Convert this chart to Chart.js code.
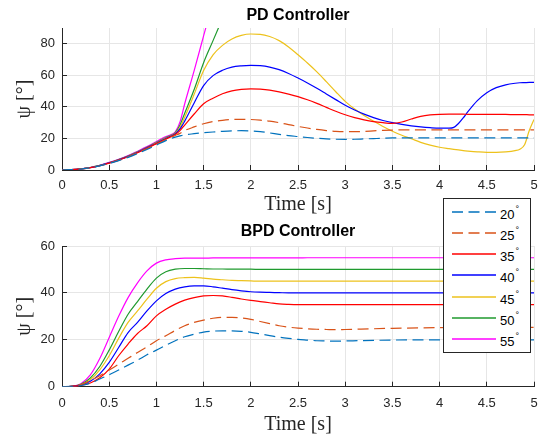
<!DOCTYPE html>
<html><head><meta charset="utf-8">
<script src="https://cdn.jsdelivr.net/npm/chart.js@4.4.1/dist/chart.umd.min.js"></script>
<style>
html,body{margin:0;padding:0;background:#fff;}
#wrap{position:relative;width:539px;height:439px;overflow:hidden;background:#fff;}
canvas{position:absolute;left:0;}
#legend{position:absolute;left:443px;top:198px;width:86px;height:153px;border:1px solid #262626;background:#fff;font-family:'Liberation Sans',Arial,sans-serif;font-size:13px;color:#000;}
.row{position:absolute;left:0;width:86px;height:20px;}
.row svg{position:absolute;left:0;top:0;}
.row span{position:absolute;left:56px;top:3px;height:20px;line-height:20px;white-space:nowrap;}
.row sup{font-size:9px;vertical-align:baseline;position:relative;top:-7px;margin-left:1px;line-height:0;}
</style></head><body>
<div id="wrap">
<canvas id="c1" width="539" height="220" style="top:0px;width:539px;height:220px"></canvas>
<canvas id="c2" width="539" height="219" style="top:220px;width:539px;height:219px"></canvas>
<div id="legend"></div>
</div>
<script>
// ---- categories / labels ----
const seriesLabels = ['20','25','35','40','45','50','55'];
const xTicksStep = 0.5;

// ---- PD controller (top) ----
const pdTime = [0,0.1,0.2,0.3,0.4,0.5,0.6,0.7,0.8,0.9,1.0,1.1,1.15,1.2,1.25,
  1.3,1.4,1.5,1.6,1.7,1.8,1.9,2.0,2.1,2.2,2.3,2.4,2.5,2.6,2.7,2.8,2.9,3.0,3.1,3.2,3.3,3.4,3.5,3.6,3.7,3.8,3.9,4.0,4.1,
  4.15,4.2,4.25,4.3,4.4,4.5,4.6,4.7,4.8,4.85,4.9,4.95,5.0];
const pd20 = [0,0.2,0.6,1.4,2.6,4.2,5.9,8.0,10.4,13.0,15.8,18.6,19.8,20.8,21.6,
  22.3,23.0,23.6,24.1,24.5,24.8,24.9,24.8,24.3,23.5,22.6,21.8,21.2,20.6,20.1,19.7,19.5,19.4,19.5,19.7,19.9,20.1,20.3,20.4,20.4,20.4,20.4,20.4,20.4,
  20.4,20.4,20.4,20.4,20.4,20.4,20.4,20.4,20.4,20.4,20.4,20.4,20.4];
const pd25 = [0,0.2,0.7,1.4,2.7,4.3,6.1,8.3,10.8,13.5,16.3,19.2,20.6,21.9,23.2,
  25.0,27.3,29.3,30.7,31.5,32.0,32.1,32.0,31.6,31.0,30.0,28.8,27.6,26.6,25.7,25.0,24.5,24.3,24.3,24.5,24.8,25.1,25.3,25.4,25.4,25.4,25.4,25.4,25.4,
  25.4,25.4,25.4,25.4,25.4,25.4,25.4,25.4,25.4,25.4,25.4,25.4,25.4];
const pd35 = [0,0.2,0.7,1.5,2.7,4.4,6.3,8.4,11.0,13.7,16.7,19.6,21.0,22.5,25.0,
  28.5,35.5,42.0,45.5,48.3,50.2,51.1,51.4,51.2,50.6,49.5,48.1,46.5,44.5,42.2,39.7,37.2,35.0,33.2,31.8,30.7,30.0,29.6,30.4,32.3,34.0,34.9,35.3,35.4,
  35.4,35.4,35.4,35.3,35.3,35.2,35.2,35.2,35.1,35.1,35.1,35.0,35.0];
const pd40 = [0,0.2,0.7,1.5,2.8,4.5,6.4,8.6,11.2,14.0,17.0,20.0,21.3,23.0,26.0,
  31.0,42.5,53.5,59.8,63.2,65.2,66.0,66.3,66.1,65.2,63.6,61.2,58.3,55.2,51.8,48.2,44.6,41.0,38.0,35.4,33.2,31.4,30.0,28.9,28.0,27.3,26.8,26.5,26.5,
  27.0,29.5,33.0,37.0,44.0,49.0,52.2,54.0,55.0,55.3,55.4,55.5,55.5];
const pd45 = [0,0.2,0.7,1.5,2.8,4.5,6.5,8.7,11.3,14.1,17.2,20.2,21.5,23.3,27.0,
  33.5,48.0,63.0,73.0,79.0,83.0,85.3,86.2,86.0,84.6,82.0,78.0,73.0,67.8,62.2,56.0,49.6,43.5,38.6,34.5,31.0,27.6,24.6,22.0,19.8,17.5,15.8,14.4,13.5,
  13.1,12.7,12.3,12.0,11.5,11.2,11.2,11.5,12.3,13.2,16.0,25.0,32.0];
const pd50 = [0,0.2,0.7,1.6,2.9,4.6,6.6,8.9,11.5,14.4,17.5,20.6,21.8,23.6,28.5,
  36.0,51.0,68.0,82.0,96.0];
const pd55 = [0,0.2,0.8,1.6,3.0,4.8,6.8,9.1,11.9,14.8,18.0,21.2,22.3,24.2,30.5,
  42.0,63.0,85.0,107.0];

// ---- BPD controller (bottom) ----
const bpdTime = [0,0.1,0.2,0.3,0.4,0.5,0.6,0.7,0.8,0.9,1.0,1.1,1.2,1.3,1.4,1.5,1.6,1.7,1.8,1.9,2.0,
  2.1,2.2,2.3,2.4,2.5,2.6,2.7,2.8,2.9,3.0,3.5,4.0,4.5,5.0];
const bpd20 = [0,0.1,0.5,1.5,3.3,5.1,7.1,9.2,11.3,13.6,15.6,17.7,19.6,21.3,22.4,
  23.3,23.7,23.8,23.8,23.6,23.2,22.5,21.8,21.1,20.6,20.2,19.9,19.6,19.5,19.4,19.5,19.9,20.0,20.0,20.0];
const bpd25 = [0,0.2,0.9,2.6,4.7,7.1,9.6,12.1,14.6,17.0,19.6,21.7,24.0,26.0,27.4,
  28.4,29.2,29.6,29.6,29.3,28.7,27.8,26.9,26.0,25.4,25.0,24.7,24.5,24.4,24.3,24.4,24.9,25.2,25.3,25.3];
const bpd35 = [0,0.2,0.6,1.6,3.8,7.5,13.2,18.2,22.7,26.0,30.2,33.0,35.2,36.9,38.0,
  38.7,38.9,38.7,38.1,37.4,36.8,36.3,35.8,35.3,35.1,35.0,35.0,35.0,35.0,35.0,35.0,35.0,35.0,35.0,35.0];
const bpd40 = [0,0.2,0.7,2.3,5.5,10.4,16.7,23.1,27.4,32.3,36.6,39.7,41.6,42.6,43.0,
  43.0,42.6,42.0,41.4,40.9,40.5,40.3,40.2,40.1,40.0,40.0,40.0,40.0,40.0,40.0,40.0,40.0,40.0,40.0,40.0];
const bpd45 = [0,0.2,0.8,3.0,7.2,13.2,20.6,27.4,32.3,37.3,42.0,44.8,46.1,46.5,46.6,
  46.3,45.9,45.6,45.3,45.2,45.1,45.0,45.0,45.0,45.0,45.0,45.0,45.0,45.0,45.0,45.0,45.0,45.0,45.0,45.0];
const bpd50 = [0,0.2,1.0,3.7,8.6,15.6,23.5,30.9,36.3,41.6,46.3,49.0,50.1,50.4,50.4,
  50.3,50.2,50.2,50.1,50.1,50.1,50.0,50.0,50.0,50.0,50.0,50.0,50.0,50.0,50.0,50.0,50.0,50.0,50.0,50.0];
const bpd55 = [0,0.2,1.3,5.0,12.0,21.0,30.0,38.0,44.3,49.4,52.7,54.1,54.6,54.8,54.8,
  54.8,54.9,54.9,54.9,54.9,54.9,54.9,54.9,54.9,54.9,54.9,55.0,55.0,55.0,55.0,55.0,55.0,55.0,55.0,55.0];

// ---- styles ----
const colors = ['#0072BD','#D95319','#FF0000','#0000FF','#EDC21C','#1F9A2E','#FF00FF'];
const dashes = [[11,5.5],[11,5.5],[],[],[],[],[]];

Chart.defaults.font.family = "'Liberation Sans', Arial, Helvetica, sans-serif";
Chart.defaults.color = '#262626';

const fmt = v => String(Math.round(v * 10) / 10);

function build(id, title, time, series, yMax, o) {
  const datasets = series.map((s, k) => ({
    label: seriesLabels[k] + '°',
    data: s.map((v, i) => ({x: time[i], y: v})),
    borderColor: colors[k],
    borderWidth: 1.2,
    borderDash: dashes[k],
    pointRadius: 0,
    fill: false,
    cubicInterpolationMode: 'monotone'
  }));
  const gridOpt = {color: '#e6e6e6', lineWidth: 1, tickLength: -5, tickColor: '#262626', tickWidth: 1};
  const borderOpt = {color: '#262626', width: 1};
  return new Chart(document.getElementById(id), {
    type: 'line',
    data: {datasets},
    options: {
      responsive: false, animation: false, events: [],
      layout: {padding: {left: 0, right: 5, top: 0, bottom: 0}},
      plugins: {
        legend: {display: false}, tooltip: {enabled: false},
        title: {display: true, text: title, color: '#000', fullSize: false,
          font: {size: 16, weight: 'bold', lineHeight: 1.2},
          padding: {top: o.tp, bottom: o.tb}}
      },
      scales: {
        x: {type: 'linear', min: 0, max: 5,
          afterFit: s => { s.height = o.xh; },
          ticks: {stepSize: xTicksStep, color: '#262626', font: {size: 13, lineHeight: o.xlh}, padding: 0,
            maxRotation: 0, autoSkip: false, callback: fmt},
          grid: gridOpt, border: borderOpt,
          title: {display: true, text: 'Time [s]', color: '#262626',
            font: {family: "'Liberation Serif', 'Times New Roman', serif", size: 20, lineHeight: 1.2},
            padding: {top: 0, bottom: o.xtb}}},
        y: {type: 'linear', min: 0, max: yMax,
          afterFit: s => { s.width = 62; },
          ticks: {stepSize: 20, includeBounds: false, color: '#262626', font: {size: 13}, padding: 12, callback: fmt},
          grid: gridOpt, border: borderOpt,
          title: {display: true, text: 'ψ [°]', color: '#262626',
            font: {family: "'Liberation Serif', 'Times New Roman', serif", size: 20, lineHeight: 1.2},
            padding: {top: 12.5, bottom: 0}}}
      }
    }
  });
}

build('c1', 'PD Controller', pdTime, [pd20, pd25, pd35, pd40, pd45, pd50, pd55], 90,
  {tp: 6.2, tb: 2.6, xh: 50, xlh: 3.08, xtb: 3});
build('c2', 'BPD Controller', bpdTime, [bpd20, bpd25, bpd35, bpd40, bpd45, bpd50, bpd55], 60,
  {tp: 2.4, tb: 4.4, xh: 52.3, xlh: 3.3, xtb: 2.6});

// ---- legend ----
const leg = document.getElementById('legend');
seriesLabels.forEach((lab, k) => {
  const c = 12.7 + 21.2 * k;
  const row = document.createElement('div');
  row.className = 'row';
  row.style.top = (c - 10) + 'px';
  const dash = dashes[k].length ? dashes[k].join(' ') : 'none';
  row.innerHTML = '<svg width="56" height="20"><line x1="8" y1="10" x2="52" y2="10" stroke="' + colors[k] +
    '" stroke-width="1.3" stroke-dasharray="' + dash + '"/></svg><span>' + lab + '<sup>°</sup></span>';
  leg.appendChild(row);
});
</script>
</body></html>
